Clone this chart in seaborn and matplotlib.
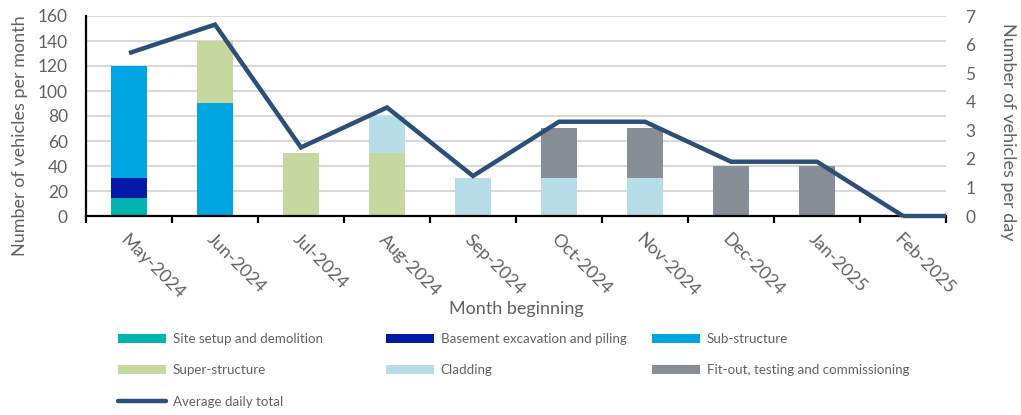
import numpy as np
import seaborn as sns
import matplotlib.pyplot as plt
from matplotlib.patches import Patch
from matplotlib.lines import Line2D
from matplotlib.ticker import FixedLocator

months = ["May-2024", "Jun-2024", "Jul-2024", "Aug-2024", "Sep-2024",
          "Oct-2024", "Nov-2024", "Dec-2024", "Jan-2025", "Feb-2025"]

site_setup = [14, 0, 0, 0, 0, 0, 0, 0, 0, 0]
basement = [16, 0, 0, 0, 0, 0, 0, 0, 0, 0]
sub_structure = [90, 90, 0, 0, 0, 0, 0, 0, 0, 0]
super_structure = [0, 50, 50, 50, 0, 0, 0, 0, 0, 0]
cladding = [0, 0, 0, 30, 30, 30, 30, 0, 0, 0]
fit_out = [0, 0, 0, 0, 0, 40, 40, 40, 40, 0]
daily_total = [5.7, 6.7, 2.4, 3.8, 1.4, 3.3, 3.3, 1.9, 1.9, 0.0]

phase_names = ["Site setup and demolition", "Basement excavation and piling",
               "Sub-structure", "Super-structure", "Cladding",
               "Fit-out, testing and commissioning"]
phase_values = [site_setup, basement, sub_structure, super_structure,
                cladding, fit_out]
phase_colors = ["#00B4B0", "#0019A8", "#00A6E2", "#C5D89D", "#B7DDE8",
                "#878E98"]
line_color = "#2C4F78"
line_label = "Average daily total"
text_color = "#626262"

sns.set_theme(style="white")
plt.rcParams["font.family"] = ["Lato", "DejaVu Sans"]

fig = plt.figure(figsize=(10.21, 4.15), dpi=100)
ax = fig.add_axes([86 / 1021, 1 - 216 / 415, 860 / 1021, 200 / 415])

# stacked bars: draw cumulative totals from the top layer down
cum = np.cumsum(np.array(phase_values, dtype=float), axis=0)
for i in range(len(phase_names) - 1, -1, -1):
    sns.barplot(x=months, y=cum[i], order=months, color=phase_colors[i],
                saturation=1, width=0.42, linewidth=0, ax=ax, zorder=3)

ax.set_ylim(0, 160)
ax.set_yticks(range(0, 161, 20))
ax.grid(axis="y", color="#D9D9D9", linewidth=1.5, zorder=0)
ax.grid(axis="x", visible=False)
ax.set_axisbelow(True)

ax2 = ax.twinx()
sns.pointplot(x=months, y=daily_total, order=months, color=line_color,
              markers="", linestyles="-", ax=ax2, errorbar=None)
# the series runs on flat to the right edge of the plot
last = len(months) - 1
ax2.plot([last, last + 0.5], [daily_total[-1], daily_total[-1]],
         color=line_color)
for ln in ax2.lines:
    ln.set_linewidth(3.2)
    ln.set_clip_on(False)
    ln.set_solid_joinstyle("miter")
    ln.set_solid_capstyle("butt")
ax2.set_ylim(0, 7)
ax2.set_yticks(range(0, 8))
ax2.grid(False)
for s in ax2.spines.values():
    s.set_visible(False)

ax.set_xlim(-0.5, len(months) - 0.5)

for s in ["top", "right"]:
    ax.spines[s].set_visible(False)
for s in ["left", "bottom"]:
    ax.spines[s].set_color("black")
    ax.spines[s].set_linewidth(1.6)
    ax.spines[s].set_zorder(4)

ax.set_xticks(range(len(months)))
ax.set_xticklabels(months)
ax.xaxis.set_minor_locator(FixedLocator(np.arange(-0.5, len(months), 1.0)))
ax.tick_params(axis="x", which="major", length=0, pad=11,
               labelsize=13, labelcolor=text_color)
ax.tick_params(axis="x", which="minor", length=5, width=1.6,
               direction="out", color="black", bottom=True)
plt.setp(ax.get_xticklabels(), rotation=-45, ha="left",
         rotation_mode="anchor")
ax.tick_params(axis="y", length=0, pad=13, labelsize=12.5,
               labelcolor=text_color)
ax2.tick_params(axis="y", length=0, pad=14, labelsize=12.5,
                labelcolor=text_color)

ax.set_xlabel("Month beginning", fontsize=13, color=text_color, labelpad=0)
ax.set_ylabel("Number of vehicles per month", fontsize=13,
              color=text_color)
ax.yaxis.set_label_coords(-0.068, 0.40)
ax2.set_ylabel("Number of vehicles per day", fontsize=13, color=text_color,
               rotation=270, va="center", ha="center")
ax2.yaxis.set_label_coords(1.072, 0.42)

# legend laid out as three columns
def patch(i):
    return Patch(facecolor=phase_colors[i], edgecolor="none",
                 label=phase_names[i])

columns = [
    ([patch(0), patch(3),
      Line2D([], [], color=line_color, linewidth=3.2, label=line_label)],
     118),
    ([patch(1), patch(4)], 386),
    ([patch(2), patch(5)], 652),
]
for handles, x0 in columns:
    fig.legend(handles=handles, loc="upper left",
               bbox_to_anchor=(x0 / 1021, 1 - 333 / 415),
               frameon=False, fontsize=9.6, borderpad=0,
               borderaxespad=0, handlelength=3.6, handleheight=0.6,
               handletextpad=0.5, labelspacing=1.45,
               labelcolor=text_color)

fig.savefig("out.png", dpi=100)
